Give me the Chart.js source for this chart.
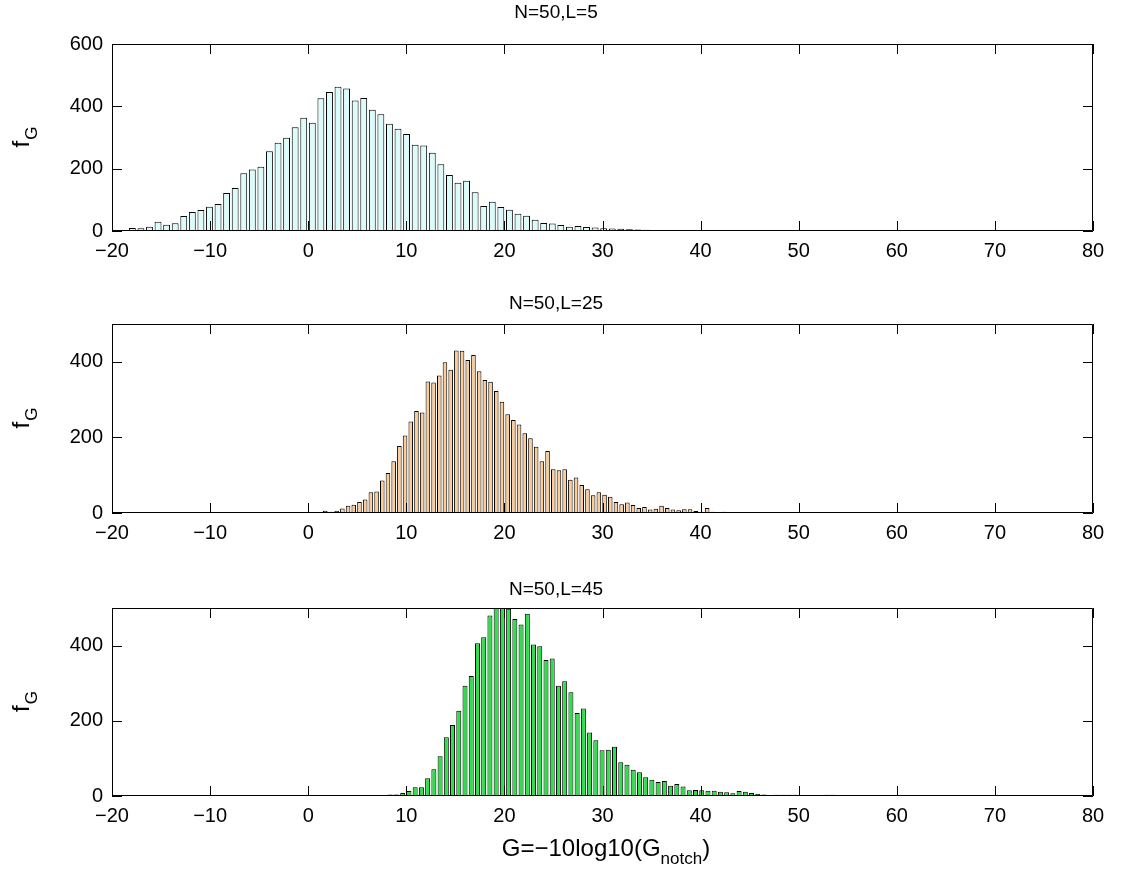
<!DOCTYPE html>
<html>
<head>
<meta charset="utf-8">
<script src="https://cdn.jsdelivr.net/npm/chart.js@4.4.1/dist/chart.umd.min.js"></script>
<style>
  html, body { margin: 0; padding: 0; background: #fff; }
  #wrap { position: relative; width: 1124px; height: 877px; }
  .panel { position: absolute; left: 0; width: 1124px; }
</style>
</head>
<body>
<div id="wrap">
  <div class="panel" style="top:0;height:282px"><canvas id="chartL5"></canvas></div>
  <div class="panel" style="top:282px;height:282px"><canvas id="chartL25"></canvas></div>
  <div class="panel" style="top:564px;height:313px"><canvas id="chartL45"></canvas></div>
</div>
<script>
// histogram bins (100 equal bins per panel): first bin centre, bin width, counts
const xTicks = [-20, -10, 0, 10, 20, 30, 40, 50, 60, 70, 80];
const yTicksL5 = [0, 200, 400, 600];
const yTicks = [0, 200, 400];

const l5Start = -18.8;
const l5Width = 0.8736;
const l5Counts = [
    3, 10, 9, 14, 30, 20, 25, 48, 61, 67,
    78, 87, 122, 138, 185, 197, 206, 256, 283, 299,
    333, 363, 347, 426, 446, 463, 457, 419, 427, 389,
    375, 344, 328, 311, 277, 274, 251, 214, 180, 155,
    161, 124, 80, 94, 77, 68, 55, 49, 36, 26,
    24, 19, 14, 16, 13, 11, 9, 8, 7, 6,
    5, 4, 3, 2, 2, 1, 1, 0, 1, 0,
    0, 1, 0, 0, 0, 0, 0, 0, 0, 0,
    0, 0, 0, 0, 0, 0, 0, 0, 0, 0,
    0, 0, 0, 0, 0, 0, 0, 0, 0, 1
];

const l25Start = -1.746;
const l25Width = 0.581;
const l25Counts = [
    1, 1, 0, 1, 1, 2, 6, 3, 6, 12,
    19, 22, 29, 36, 55, 57, 86, 106, 137, 177,
    205, 242, 270, 266, 348, 345, 364, 399, 379, 430,
    429, 405, 418, 375, 352, 347, 323, 294, 261, 246,
    234, 211, 198, 175, 137, 164, 116, 113, 116, 88,
    94, 74, 63, 47, 55, 48, 43, 29, 23, 28,
    21, 13, 16, 9, 11, 19, 13, 9, 7, 10,
    10, 5, 3, 13, 3, 2, 3, 2, 1, 2,
    1, 1, 2, 1, 1, 0, 1, 1, 1, 0,
    1, 0, 1, 1, 0, 0, 1, 0, 0, 1
];

const l45Start = 6.46;
const l45Width = 0.635;
const l45Counts = [
    1, 1, 2, 4, 4, 8, 13, 23, 23, 47,
    71, 106, 156, 189, 227, 293, 319, 406, 422, 480,
    508, 512, 498, 471, 456, 485, 403, 398, 362, 366,
    293, 305, 276, 221, 233, 169, 148, 122, 123, 131,
    90, 83, 70, 63, 50, 43, 37, 40, 27, 32,
    25, 15, 16, 15, 14, 14, 11, 10, 7, 13,
    11, 8, 6, 4, 1, 3, 3, 3, 3, 1,
    0, 1, 0, 3, 3, 1, 0, 1, 0, 0,
    1, 0, 0, 0, 1, 0, 0, 0, 0, 0,
    0, 0, 0, 0, 0, 0, 0, 0, 0, 1
];

const FONT = '"Liberation Sans", Arial, Helvetica, sans-serif';
Chart.defaults.font.family = FONT;
Chart.defaults.font.size = 20;
Chart.defaults.color = '#000';

function binPoints(start, width, counts) {
    return counts.map((c, i) => ({ x: start + i * width, y: c }));
}

function minusSign(v) {
    return String(v).replace('-', '\u2212');
}

// matlab style box, inward ticks, title and axis labels
const matlabAxes = {
    id: 'matlabAxes',
    afterDraw(chart, args, opts) {
        const { ctx, chartArea: a } = chart;
        const x = chart.scales.x, y = chart.scales.y;
        const tl = 10;
        ctx.save();
        ctx.strokeStyle = '#000';
        ctx.lineWidth = 1;
        ctx.beginPath();
        ctx.rect(Math.round(a.left) + 0.5, Math.round(a.top) + 0.5,
            Math.round(a.right - a.left) - 1, Math.round(a.bottom - a.top) - 1);
        x.ticks.forEach(t => {
            const px = Math.round(x.getPixelForValue(t.value)) + 0.5;
            ctx.moveTo(px, a.bottom); ctx.lineTo(px, a.bottom - tl);
            ctx.moveTo(px, a.top); ctx.lineTo(px, a.top + tl);
        });
        y.ticks.forEach(t => {
            const py = Math.round(y.getPixelForValue(t.value)) + 0.5;
            ctx.moveTo(a.left, py); ctx.lineTo(a.left + tl, py);
            ctx.moveTo(a.right, py); ctx.lineTo(a.right - tl, py);
        });
        ctx.stroke();

        ctx.fillStyle = '#000';
        ctx.textBaseline = 'middle';
        ctx.textAlign = 'center';
        ctx.font = '19px ' + FONT;
        ctx.fillText(opts.title, 556, a.top - opts.titleGap);

        // y label f_G
        ctx.textAlign = 'left';
        ctx.textBaseline = 'alphabetic';
        ctx.save();
        ctx.translate(29, (a.top + a.bottom) / 2);
        ctx.rotate(-Math.PI / 2);
        ctx.font = '24px ' + FONT;
        const wf = ctx.measureText('f').width;
        ctx.font = '17px ' + FONT;
        const wg = ctx.measureText('G').width;
        const x0 = -(wf + wg) / 2;
        ctx.font = '24px ' + FONT;
        ctx.fillText('f', x0, 0);
        ctx.font = '17px ' + FONT;
        ctx.fillText('G', x0 + wf + 1, 8);
        ctx.restore();

        if (opts.xLabel) {
            const main = 'G=\u221210log10(G', sub = 'notch', end = ')';
            ctx.font = '24px ' + FONT;
            const w1 = ctx.measureText(main).width, w3 = ctx.measureText(end).width;
            ctx.font = '17px ' + FONT;
            const w2 = ctx.measureText(sub).width;
            let sx = 606 - (w1 + w2 + w3) / 2;
            const by = a.bottom + opts.xLabelGap;
            ctx.font = '24px ' + FONT;
            ctx.fillText(main, sx, by);
            ctx.font = '17px ' + FONT;
            ctx.fillText(sub, sx + w1, by + 8);
            ctx.font = '24px ' + FONT;
            ctx.fillText(end, sx + w1 + w2, by);
        }
        ctx.restore();
    }
};

function makeHist(id, start, width, counts, color, yMax, yTickList, panel) {
    new Chart(document.getElementById(id), {
        type: 'bar',
        data: {
            datasets: [{
                data: binPoints(start, width, counts),
                backgroundColor: color,
                borderColor: '#000',
                borderWidth: 1,
                barPercentage: 0.8,
                categoryPercentage: 1,
                clip: 0
            }]
        },
        options: {
            responsive: true,
            maintainAspectRatio: false,
            animation: false,
            layout: { padding: { left: 0, right: 31, top: panel.top, bottom: 0 } },
            scales: {
                x: {
                    type: 'linear',
                    offset: false,
                    min: -20,
                    max: 80,
                    grid: { display: false, drawTicks: false },
                    border: { display: false },
                    afterBuildTicks: s => { s.ticks = xTicks.map(v => ({ value: v })); },
                    afterFit: s => { s.height = panel.xHeight; },
                    ticks: { autoSkip: false, maxRotation: 0, padding: 8, callback: v => minusSign(v) }
                },
                y: {
                    min: 0,
                    max: yMax,
                    grid: { display: false, drawTicks: false },
                    border: { display: false },
                    afterBuildTicks: s => { s.ticks = yTickList.map(v => ({ value: v })); },
                    afterFit: s => { s.width = 112; },
                    ticks: { padding: 9 }
                }
            },
            plugins: {
                legend: { display: false },
                tooltip: { enabled: false },
                matlabAxes: panel.labels
            }
        },
        plugins: [matlabAxes]
    });
}

makeHist('chartL5', l5Start, l5Width, l5Counts, '#dcfcfc', 600, yTicksL5,
    { top: 44, xHeight: 51, labels: { title: 'N=50,L=5', titleGap: 31 } });
makeHist('chartL25', l25Start, l25Width, l25Counts, '#fccc99', 500, yTicks,
    { top: 42, xHeight: 51, labels: { title: 'N=50,L=25', titleGap: 20 } });
makeHist('chartL45', l45Start, l45Width, l45Counts, '#2de04a', 500, yTicks,
    { top: 44, xHeight: 81, labels: { title: 'N=50,L=45', titleGap: 18, xLabel: true, xLabelGap: 60 } });
</script>
</body>
</html>
